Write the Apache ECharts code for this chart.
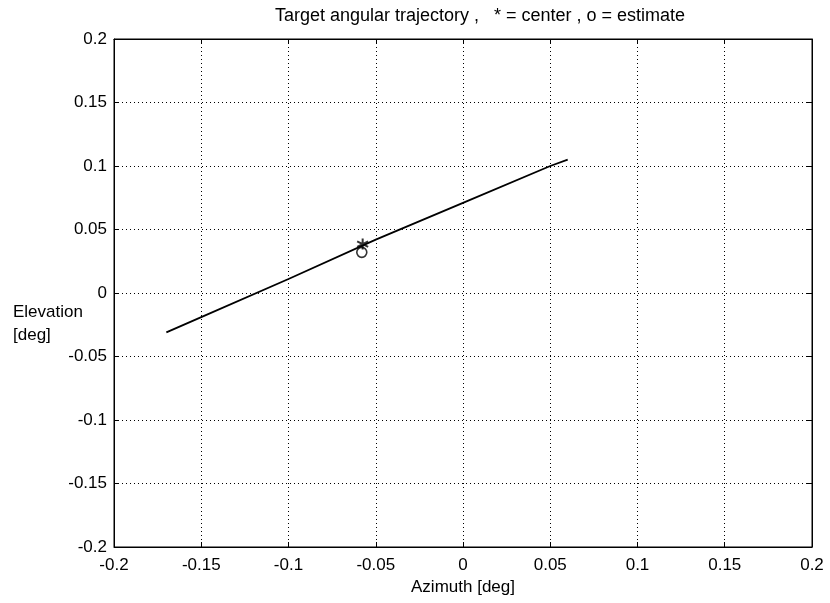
<!DOCTYPE html>
<html>
<head>
<meta charset="utf-8">
<script src="https://cdn.jsdelivr.net/npm/echarts@6/dist/echarts.min.js"></script>
<style>
  html, body { margin: 0; padding: 0; background: #fff; }
  #box { width: 830px; height: 603px; }
</style>
</head>
<body>
<div id="box"></div>
<script>
// trajectory (deg)
const azimuth = [-0.17, -0.15, -0.1, -0.05, 0, 0.05, 0.06];
const elevation = [-0.031, -0.019, 0.011, 0.042, 0.071, 0.1, 0.105];

// markers
const center = [-0.0575, 0.0385];
const estimate = [-0.058, 0.032];

const xTicks = ['-0.2', '-0.15', '-0.1', '-0.05', '0', '0.05', '0.1', '0.15', '0.2'];
const yTicks = ['-0.2', '-0.15', '-0.1', '-0.05', '0', '0.05', '0.1', '0.15', '0.2'];

const fontFamily = 'Liberation Sans, Arial, sans-serif';

function tickLabel(ticks) {
    return function (v) {
        let i = Math.round((v + 0.2) / 0.05);
        return ticks[i] !== undefined ? ticks[i] : '';
    };
}

let myChart = echarts.init(document.getElementById('box'));

let lineData = [];
for (let i = 0; i < azimuth.length; i++) {
    lineData.push([azimuth[i], elevation[i]]);
}

const baseAxis = {
    type: 'value',
    min: -0.2,
    max: 0.2,
    interval: 0.05,
    axisLine: { show: true, onZero: false, lineStyle: { color: '#000', width: 1 } },
    axisTick: { show: true, inside: true, length: 5, lineStyle: { color: '#000' } }
};

let option = {
    animation: false,
    backgroundColor: '#fff',
    title: {
        text: 'Target angular trajectory ,   * = center , o = estimate',
        left: 475,
        top: 2,
        textAlign: 'center',
        textStyle: { fontFamily: fontFamily, fontSize: 18, fontWeight: 'normal', color: '#000' }
    },
    grid: {
        left: 114,
        right: 18,
        top: 39,
        bottom: 56,
        outerBoundsMode: 'none',
        containLabel: false,
        show: true,
        borderColor: '#000',
        borderWidth: 1
    },
    xAxis: [
        Object.assign({}, baseAxis, {
            position: 'bottom',
            name: 'Azimuth [deg]',
            nameLocation: 'middle',
            nameGap: 32,
            nameMoveOverlap: false,
            nameTextStyle: { fontFamily: fontFamily, fontSize: 17, color: '#000' },
            axisLabel: { margin: 10, fontFamily: fontFamily, fontSize: 17, color: '#000', formatter: tickLabel(xTicks) },
            splitLine: { show: true, lineStyle: { type: [1, 3], color: '#000', width: 1 } }
        }),
        Object.assign({}, baseAxis, {
            position: 'top',
            axisLabel: { show: false },
            splitLine: { show: false }
        })
    ],
    yAxis: [
        Object.assign({}, baseAxis, {
            position: 'left',
            name: 'Elevation\n[deg]',
            nameLocation: 'middle',
            nameRotate: 0,
            nameGap: 101,
            nameMoveOverlap: false,
            nameTextStyle: {
                fontFamily: fontFamily, fontSize: 17, color: '#000',
                align: 'left', verticalAlign: 'top', lineHeight: 23, padding: [8, 0, 0, 0]
            },
            axisLabel: { margin: 7, fontFamily: fontFamily, fontSize: 17, color: '#000', formatter: tickLabel(yTicks) },
            splitLine: { show: true, lineStyle: { type: [1, 3], color: '#000', width: 1 } }
        }),
        Object.assign({}, baseAxis, {
            position: 'right',
            axisLabel: { show: false },
            splitLine: { show: false }
        })
    ],
    series: [
        {
            name: 'trajectory',
            type: 'line',
            data: lineData,
            showSymbol: false,
            symbol: 'none',
            lineStyle: { color: '#000', width: 1.8 },
            z: 3
        },
        {
            name: 'center',
            type: 'scatter',
            data: [center],
            symbol: 'path://M0,-5L0,5M-4.33,-2.5L4.33,2.5M-4.33,2.5L4.33,-2.5',
            symbolSize: 11,
            itemStyle: { color: 'none', borderColor: '#000', borderWidth: 2 },
            z: 4
        },
        {
            name: 'estimate',
            type: 'scatter',
            data: [estimate],
            symbol: 'circle',
            symbolSize: 10,
            itemStyle: { color: 'none', borderColor: '#000', borderWidth: 1.6 },
            z: 4
        }
    ]
};
myChart.setOption(option);
</script>
</body>
</html>
